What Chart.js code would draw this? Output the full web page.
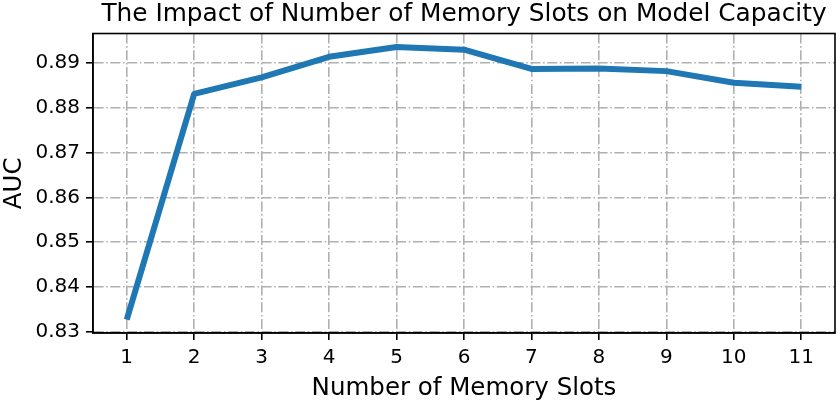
<!DOCTYPE html>
<html>
<head>
<meta charset="utf-8">
<script src="https://cdn.jsdelivr.net/npm/chart.js@4"></script>
<style>
html,body{margin:0;padding:0;background:#fff;}
#wrap{width:838px;height:403px;position:relative;}
</style>
</head>
<body>
<div id="wrap"><canvas id="c" width="838" height="403"></canvas></div>
<script>
const slots = [1, 2, 3, 4, 5, 6, 7, 8, 9, 10, 11];
const auc = [0.8327, 0.8831, 0.8868, 0.8914, 0.8936, 0.8930, 0.8887, 0.8888, 0.8882, 0.8856, 0.8847];
const yTicks = [0.83, 0.84, 0.85, 0.86, 0.87, 0.88, 0.89];
const yTickLabels = ['0.83', '0.84', '0.85', '0.86', '0.87', '0.88', '0.89'];
const xTickLabels = ['1', '2', '3', '4', '5', '6', '7', '8', '9', '10', '11'];

const points = slots.map((s, i) => ({x: s, y: auc[i]}));
const FONT = "'DejaVu Sans', sans-serif";

const boxPlugin = {
  id: 'box',
  afterDraw(chart) {
    const a = chart.chartArea, ctx = chart.ctx;
    ctx.save();
    ctx.setLineDash([]);
    ctx.strokeStyle = '#000';
    ctx.lineWidth = 1.6;
    ctx.strokeRect(a.left, a.top, a.right - a.left, a.bottom - a.top);
    ctx.restore();
  }
};

const gridCommon = {
  color: '#b0b0b0',
  lineWidth: 1.6,
  tickBorderDash: [],
  tickColor: '#000',
  tickLength: 7,
  tickWidth: 1.6
};
const borderCommon = {display: true, color: '#000', width: 1.6, dash: [10, 2.6, 1.6, 2.6]};

new Chart(document.getElementById('c'), {
  type: 'line',
  data: {
    datasets: [{
      data: points,
      borderColor: '#1f77b4',
      borderWidth: 6,
      pointRadius: 0,
      tension: 0,
      fill: false,
      borderJoinStyle: 'round',
      borderCapStyle: 'butt'
    }]
  },
  options: {
    responsive: false,
    animation: false,
    devicePixelRatio: 1,
    layout: {padding: {left: 0, right: 3, top: 0, bottom: 0}},
    plugins: {
      legend: {display: false},
      tooltip: {enabled: false},
      title: {
        display: true,
        fullSize: false,
        text: 'The Impact of Number of Memory Slots on Model Capacity',
        color: '#000',
        font: {family: FONT, size: 24.8, weight: 'normal', lineHeight: 1.15},
        padding: {top: 0, bottom: 5}
      }
    },
    scales: {
      x: {
        type: 'linear',
        min: 0.5,
        max: 11.5,
        afterBuildTicks(scale) { scale.ticks = slots.map(v => ({value: v})); },
        afterFit(scale) { scale.height = 70; },
        ticks: {
          color: '#000',
          font: {family: FONT, size: 20},
          padding: 6,
          maxRotation: 0,
          autoSkip: false,
          callback: (v, i) => xTickLabels[i]
        },
        grid: gridCommon,
        border: borderCommon,
        title: {
          display: true,
          text: 'Number of Memory Slots',
          color: '#000',
          font: {family: FONT, size: 24.5},
          padding: {top: 0, bottom: 0}
        }
      },
      y: {
        type: 'linear',
        min: 0.8297,
        max: 0.8966,
        afterBuildTicks(scale) { scale.ticks = yTicks.map(v => ({value: v})); },
        afterFit(scale) { scale.width = 93; },
        ticks: {
          color: '#000',
          font: {family: FONT, size: 20},
          padding: 6,
          autoSkip: false,
          callback: (v, i) => yTickLabels[i]
        },
        grid: gridCommon,
        border: borderCommon,
        title: {
          display: true,
          text: 'AUC',
          color: '#000',
          font: {family: FONT, size: 24.5},
          padding: {top: 0, bottom: 3}
        }
      }
    }
  },
  plugins: [boxPlugin]
});
</script>
</body>
</html>
